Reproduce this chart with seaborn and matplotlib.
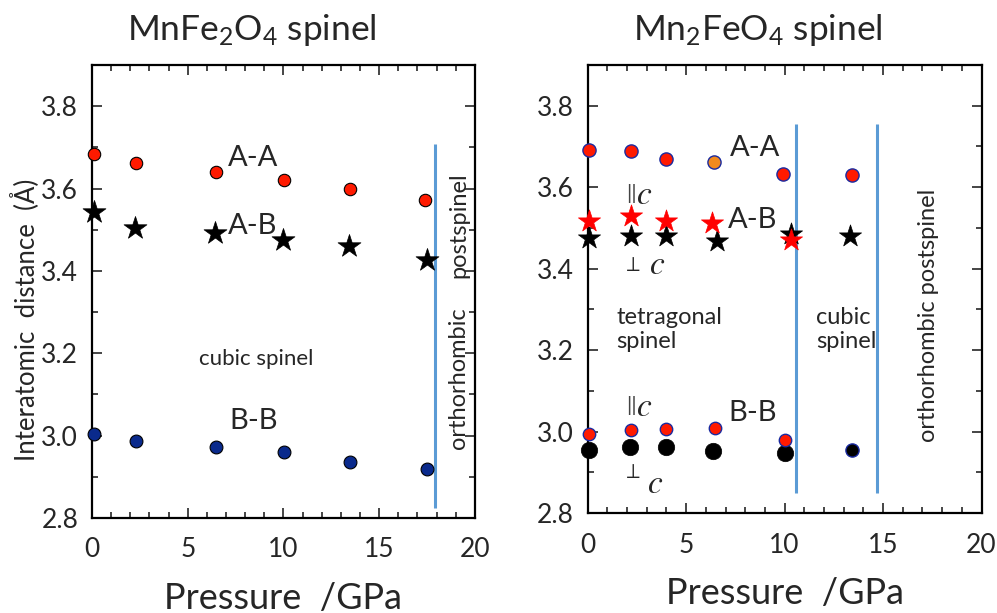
import numpy as np
import pandas as pd
import matplotlib
matplotlib.use("Agg")
import matplotlib.pyplot as plt
import seaborn as sns
from matplotlib.ticker import MultipleLocator

# MnFe2O4 (left panel)
left_p_aa = [0.1, 2.3, 6.5, 10.05, 13.5, 17.4]
left_aa = [3.683, 3.662, 3.640, 3.621, 3.600, 3.572]
left_p_ab = [0.1, 2.25, 6.4, 10.0, 13.4, 17.5]
left_ab = [3.543, 3.504, 3.492, 3.476, 3.460, 3.427]
left_p_bb = [0.1, 2.3, 6.5, 10.05, 13.5, 17.5]
left_bb = [3.003, 2.988, 2.972, 2.960, 2.937, 2.920]
left_boundary = [17.9]

# Mn2FeO4 (right panel)
right_p_aa = [0.05, 2.2, 3.95, 9.9, 13.4]
right_aa = [3.692, 3.690, 3.669, 3.633, 3.631]
right_p_aa_orange = [6.4]
right_aa_orange = [3.663]
right_p_ab_par = [0.05, 2.2, 4.0, 6.3, 10.3]
right_ab_par = [3.517, 3.530, 3.518, 3.512, 3.471]
right_p_ab_perp = [0.05, 2.2, 4.0, 6.55, 10.3, 13.3]
right_ab_perp = [3.475, 3.479, 3.479, 3.469, 3.486, 3.481]
right_p_bb_par = [0.05, 2.2, 4.0, 6.45, 10.0]
right_bb_par = [2.993, 3.003, 3.006, 3.008, 2.980]
right_p_bb_perp = [0.05, 2.15, 4.0, 6.35, 10.0]
right_bb_perp = [2.956, 2.962, 2.962, 2.953, 2.947]
right_p_bb_cubic = [13.4]
right_bb_cubic = [2.955]
right_boundaries = [10.6, 14.7]

sns.set_style("ticks")
plt.rcParams['font.family'] = ['Lato', 'DejaVu Sans']
plt.rcParams['mathtext.fontset'] = 'custom'
plt.rcParams['mathtext.rm'] = 'Lato'
plt.rcParams['mathtext.it'] = 'Lato:italic'

LINE_BLUE = '#5b9bd5'

fig = plt.figure(figsize=(9.97, 6.13), dpi=100)
ax1 = fig.add_axes([0.0923, 0.155, 0.384, 0.739])
ax2 = fig.add_axes([0.5895, 0.163, 0.395, 0.731])


def style_axes(ax):
    ax.set_xlim(0, 20)
    ax.set_ylim(2.8, 3.9)
    ax.xaxis.set_major_locator(MultipleLocator(5))
    ax.xaxis.set_minor_locator(MultipleLocator(1))
    ax.yaxis.set_major_locator(MultipleLocator(0.2))
    ax.yaxis.set_minor_locator(MultipleLocator(0.1))
    ax.tick_params(which='both', direction='in', top=True, right=True, width=1.2)
    ax.tick_params(which='major', length=7, labelsize=19)
    ax.tick_params(which='minor', length=4)
    ax.tick_params(axis='x', pad=14)
    ax.tick_params(axis='y', pad=10)
    ax.set_yticks([2.8, 3.0, 3.2, 3.4, 3.6, 3.8])
    ax.set_yticklabels(['2.8', '3.0', '3.2', '3.4', '3.6', '3.8'])
    for sp in ax.spines.values():
        sp.set_linewidth(1.6)
        sp.set_color('black')
    ax.set_xlabel('Pressure  /GPa', fontsize=26, labelpad=14)
    ax.set_ylabel('')


# ---- left panel ----
ax = ax1
ax.vlines(left_boundary, 2.825, 3.707, color=LINE_BLUE, lw=2.2, zorder=1)
sns.scatterplot(x=left_p_aa, y=left_aa, ax=ax, s=80, color='#ff1a00',
                edgecolor='black', linewidth=0.8, zorder=3, clip_on=False)
sns.scatterplot(x=left_p_ab, y=left_ab, ax=ax, s=300, marker='*', color='black',
                edgecolor='black', linewidth=0.5, zorder=3, clip_on=False)
sns.scatterplot(x=left_p_bb, y=left_bb, ax=ax, s=85, color='#0a2a8c',
                edgecolor='black', linewidth=0.8, zorder=3, clip_on=False)
style_axes(ax)
ax.text(8.4, 3.675, 'A-A', fontsize=21, ha='center', va='center')
ax.text(8.4, 3.51, 'A-B', fontsize=21, ha='center', va='center')
ax.text(8.6, 3.185, 'cubic spinel', fontsize=16, ha='center', va='center')
ax.text(8.45, 3.035, 'B-B', fontsize=21, ha='center', va='center')
ax.text(19.15, 3.51, 'postspinel', fontsize=17, rotation=90, ha='center', va='center')
ax.text(19.15, 3.14, 'orthorhombic', fontsize=17, rotation=90, ha='center', va='center')

# ---- right panel ----
ax = ax2
ax.vlines(right_boundaries, 2.85, 3.755, color=LINE_BLUE, lw=2.2, zorder=1)
sns.scatterplot(x=right_p_aa, y=right_aa, ax=ax, s=90, color='#ff1a00',
                edgecolor='#1a2aa0', linewidth=1.0, zorder=3, clip_on=False)
sns.scatterplot(x=right_p_aa_orange, y=right_aa_orange, ax=ax, s=90, color='#f28a1e',
                edgecolor='#1a2aa0', linewidth=1.0, zorder=3, clip_on=False)
sns.scatterplot(x=right_p_ab_perp, y=right_ab_perp, ax=ax, s=280, marker='*', color='black',
                edgecolor='black', linewidth=0.5, zorder=3, clip_on=False)
sns.scatterplot(x=right_p_ab_par, y=right_ab_par, ax=ax, s=280, marker='*', color='#ff0000',
                edgecolor='#ff0000', linewidth=0.5, zorder=4, clip_on=False)
sns.scatterplot(x=right_p_bb_perp, y=right_bb_perp, ax=ax, s=140, color='black',
                edgecolor='black', linewidth=0.5, zorder=3, clip_on=False)
sns.scatterplot(x=right_p_bb_par, y=right_bb_par, ax=ax, s=80, color='#ff1a00',
                edgecolor='#1a2aa0', linewidth=1.0, zorder=4, clip_on=False)
sns.scatterplot(x=right_p_bb_cubic, y=right_bb_cubic, ax=ax, s=90, color='black',
                edgecolor='#1a2aa0', linewidth=1.0, zorder=3, clip_on=False)
style_axes(ax)
ax.text(8.5, 3.695, 'A-A', fontsize=21, ha='center', va='center')
ax.text(8.4, 3.52, 'A-B', fontsize=21, ha='center', va='center')
ax.text(8.4, 3.045, 'B-B', fontsize=21, ha='center', va='center')
ax.text(2.15, 3.585, r'$\Vert$', fontsize=16, ha='center', va='center',
        math_fontfamily='stix', color='#444444')
ax.text(2.85, 3.58, r'$c$', fontsize=24, ha='center', va='center', math_fontfamily='stix')
ax.text(2.2, 3.41, r'$\perp$', fontsize=15, ha='center', va='center', math_fontfamily='stix')
ax.text(3.5, 3.408, r'$c$', fontsize=24, ha='center', va='center', math_fontfamily='stix')
ax.text(2.15, 3.065, r'$\Vert$', fontsize=16, ha='center', va='center',
        math_fontfamily='stix', color='#444444')
ax.text(2.85, 3.06, r'$c$', fontsize=24, ha='center', va='center', math_fontfamily='stix')
ax.text(2.2, 2.9, r'$\perp$', fontsize=15, ha='center', va='center', math_fontfamily='stix')
ax.text(3.4, 2.872, r'$c$', fontsize=24, ha='center', va='center', math_fontfamily='stix')
ax.text(1.45, 3.25, 'tetragonal\nspinel', fontsize=17, ha='left', va='center', linespacing=1.15)
ax.text(11.6, 3.25, 'cubic\nspinel', fontsize=17, ha='left', va='center', linespacing=1.15)
ax.text(17.3, 3.285, 'orthorhombic postspinel', fontsize=17, rotation=90,
        ha='center', va='center')

# titles and shared y label
fig.text(252 / 997, 1 - 30 / 613, r'MnFe$_\mathregular{2}$O$_\mathregular{4}$ spinel',
         fontsize=25.5, ha='center', va='center')
fig.text(758 / 997, 1 - 30 / 613, r'Mn$_\mathregular{2}$FeO$_\mathregular{4}$ spinel',
         fontsize=25.5, ha='center', va='center')
fig.text(25 / 997, 1 - 320 / 613, 'Interatomic  distance  (Å)', fontsize=18.5,
         rotation=90, ha='center', va='center')

fig.savefig('out.png', dpi=100)
